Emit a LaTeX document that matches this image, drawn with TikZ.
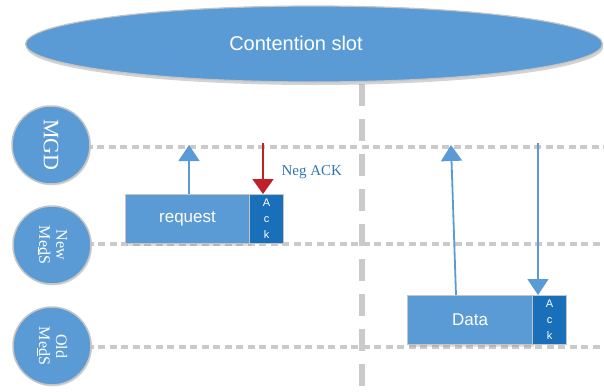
\documentclass[tikz,border=0pt]{standalone}
\usepackage{fontspec}
\setmainfont{Liberation Serif}
\setsansfont{Liberation Sans}
\usetikzlibrary{shapes.geometric,shadows,arrows.meta}
\definecolor{cellblue}{HTML}{5B9BD5}
\definecolor{ackblue}{HTML}{1A6FBA}
\definecolor{negred}{HTML}{C0202A}
\definecolor{textblue}{HTML}{2E75B6}
\definecolor{rulegray}{HTML}{CACACA}
\definecolor{edgegray}{HTML}{C4C4C4}
\pgfdeclarelayer{lanes}
\pgfsetlayers{lanes,main}

\begin{document}
\begin{tikzpicture}[x=1pt,y=-1pt,
  lane/.style={draw=rulegray, line width=3.5pt, dash pattern=on 7pt off 4.5pt},
  divider/.style={draw=rulegray, line width=5.5pt, dash pattern=on 22pt off 13pt},
  station/.style={circle, fill=cellblue, draw=edgegray, line width=1.5pt,
    minimum size=78pt, inner sep=0pt, text=white, align=center,
    drop shadow={shadow xshift=1pt, shadow yshift=-1.5pt, opacity=0.25}},
  frame/.style={rectangle, fill=cellblue, draw=edgegray, line width=1pt,
    text=white, font=\sffamily\fontsize{17}{17}\selectfont, inner sep=0pt,
    minimum height=49pt, anchor=south west,
    drop shadow={shadow xshift=1pt, shadow yshift=-2pt, opacity=0.25}},
  ackcell/.style={rectangle, fill=ackblue, draw=edgegray, line width=1pt,
    text=white, font=\sffamily\fontsize{11}{16}\selectfont, align=center,
    inner sep=0pt, minimum width=34pt, minimum height=49pt, anchor=south west},
  uparrow/.style={draw=cellblue, line width=1.8pt,
    -{Triangle[width=21pt,length=16pt]}},
  negarrow/.style={draw=negred, line width=1.8pt,
    -{Triangle[width=21pt,length=15pt]}},
]
\useasboundingbox (0,0) rectangle (604,391);

% slot divider
\coordinate (divtop) at (362,84);
\coordinate (divbot) at (362,391);
\begin{pgfonlayer}{lanes}
\draw[divider] (divtop) -- (divbot);
\end{pgfonlayer}

% header ellipse
\node[ellipse, fill=cellblue, draw=edgegray, line width=1.2pt,
  minimum width=577pt, minimum height=76pt, inner sep=0pt,
  drop shadow={shadow xshift=1pt, shadow yshift=-3pt, opacity=0.35}]
  (slot) at (314,44) {};
\node[text=white, font=\sffamily\fontsize{20}{20}\selectfont] (slottxt) at (296,43) {Contention slot};

% stations
\node[station, font=\rmfamily\fontsize{22}{22}\selectfont, rotate=-90] (mgd) at (51,145) {MGD};
\node[station, font=\rmfamily\fontsize{16}{17}\selectfont, rotate=-90] (newm) at (52,245) {New\\Me\underline{d}S};
\node[station, font=\rmfamily\fontsize{16}{17}\selectfont, rotate=-90] (oldm) at (52,346) {Old\\Me\underline{d}S};

% lane lines, kept behind the stations
\coordinate (mgdend) at (604,147);
\coordinate (newend) at (604,244);
\coordinate (oldend) at (604,347);
\begin{pgfonlayer}{lanes}
\draw[lane] (mgd.center |- mgdend) -- (mgdend);
\draw[lane] (newm.center |- newend) -- (newend);
\draw[lane] (oldm.center |- oldend) -- (oldend);
\end{pgfonlayer}

% request frame from the new station
\node[frame, minimum width=124pt] (req) at (125,244) {request};
\node[ackcell] (reqack) at (249,244) {A\\c\\k};

% data frame from the old station
\node[frame, minimum width=125pt] (data) at (407,345) {Data};
\node[ackcell] (dataack) at (532,345) {A\\c\\k};

% transmissions
\coordinate (reqtop) at (189,145);
\draw[uparrow] (req.north -| reqtop) -- (reqtop);
\coordinate (negstart) at (263,143);
\draw[negarrow] (negstart) -- (reqack.north -| negstart);
\node[text=textblue, font=\rmfamily\fontsize{15}{15}\selectfont, anchor=west] (neglbl) at (278,172) {Neg ACK};

\coordinate (databot) at (456,295);
\coordinate (datatop) at (451,145);
\draw[uparrow] (databot) -- (datatop);
\coordinate (ackstart) at (538,143);
\draw[uparrow] (ackstart) -- (dataack.north -| ackstart);
\end{tikzpicture}
\end{document}
